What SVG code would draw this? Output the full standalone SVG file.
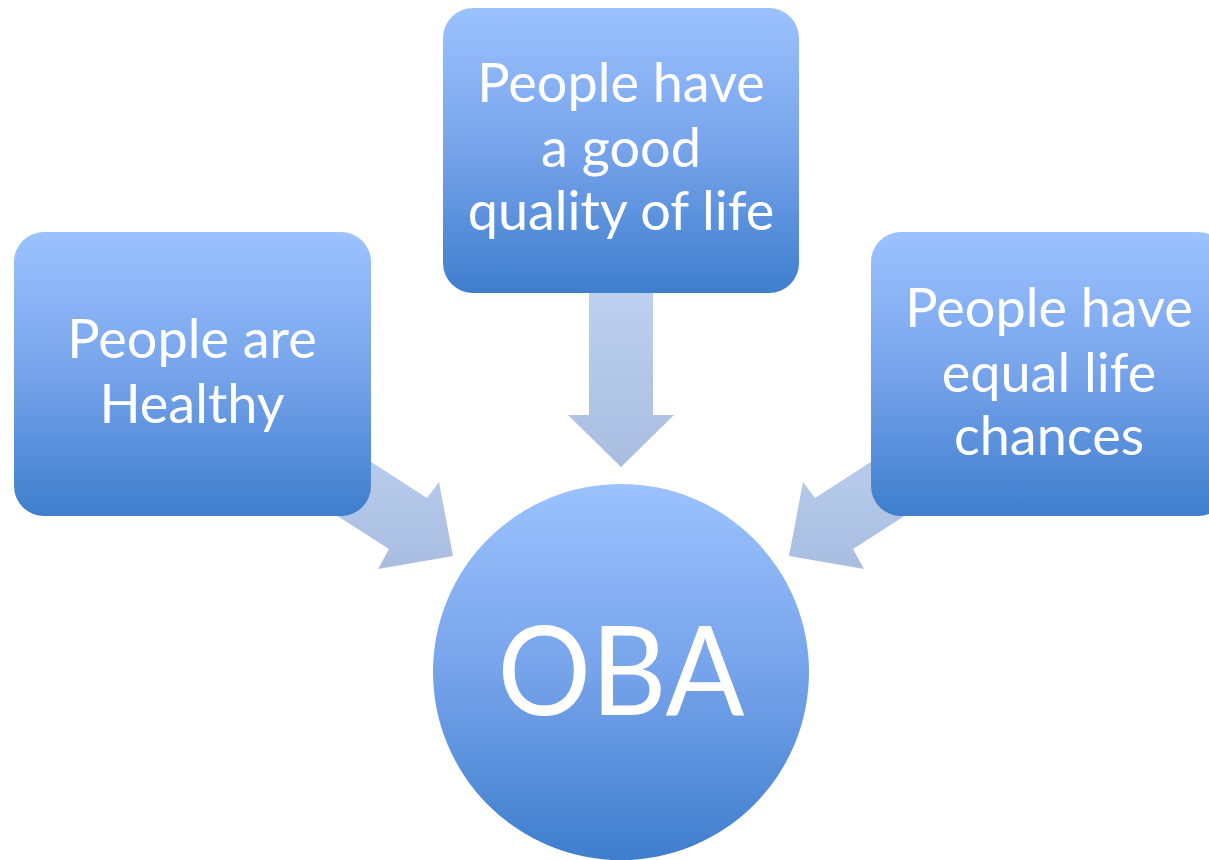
<svg xmlns="http://www.w3.org/2000/svg" width="1209" height="860" viewBox="0 0 1209 860">
<defs>
<linearGradient id="boxg" x1="0" y1="0" x2="0" y2="1">
<stop offset="0" stop-color="#9cc2ff"/>
<stop offset="0.5" stop-color="#76a3ea"/>
<stop offset="1" stop-color="#3e7ecd"/>
</linearGradient>
<linearGradient id="arrg" x1="0" y1="0" x2="0" y2="1">
<stop offset="0" stop-color="#bed1f0"/>
<stop offset="1" stop-color="#a9bde1"/>
</linearGradient>
<style>
.node{fill:url(#boxg);}
.arr{fill:url(#arrg);}
.lbl{font-family:Lato,"Liberation Sans",sans-serif;fill:#ffffff;text-anchor:middle;font-size:54px;}
.big{font-family:Lato,"Liberation Sans",sans-serif;fill:#ffffff;text-anchor:middle;font-size:125px;}
</style>
</defs>
<rect width="1209" height="860" fill="#ffffff"/>
<g id="connectors">
<polygon class="arr" points="589,280 653,280 653,415 674,415 621,467 568,415 589,415"/>
<polygon class="arr" points="300,416 427,498 439,482 453,556 378,569 389,549 300,492"/>
<polygon class="arr" points="942,416 815,498 803,482 789,556 864,569 853,549 942,492"/>
</g>
<g id="node-quality">
<rect class="node" x="443" y="8" width="356" height="285" rx="30" ry="30"/>
<text class="lbl" x="621" y="102">People have</text>
<text class="lbl" x="621" y="167">a good</text>
<text class="lbl" x="621" y="230">quality of life</text>
</g>
<g id="node-healthy">
<rect class="node" x="14" y="232" width="357" height="284" rx="30" ry="30"/>
<text class="lbl" x="192" y="358">People are</text>
<text class="lbl" x="192" y="423">Healthy</text>
</g>
<g id="node-equal">
<rect class="node" x="871" y="232" width="357" height="284" rx="30" ry="30"/>
<text class="lbl" x="1049" y="327">People have</text>
<text class="lbl" x="1049" y="392">equal life</text>
<text class="lbl" x="1049" y="455">chances</text>
</g>
<g id="node-oba">
<circle class="node" cx="621" cy="672" r="188"/>
<text class="big" x="621" y="715" textLength="247" lengthAdjust="spacingAndGlyphs">OBA</text>
</g>
</svg>
